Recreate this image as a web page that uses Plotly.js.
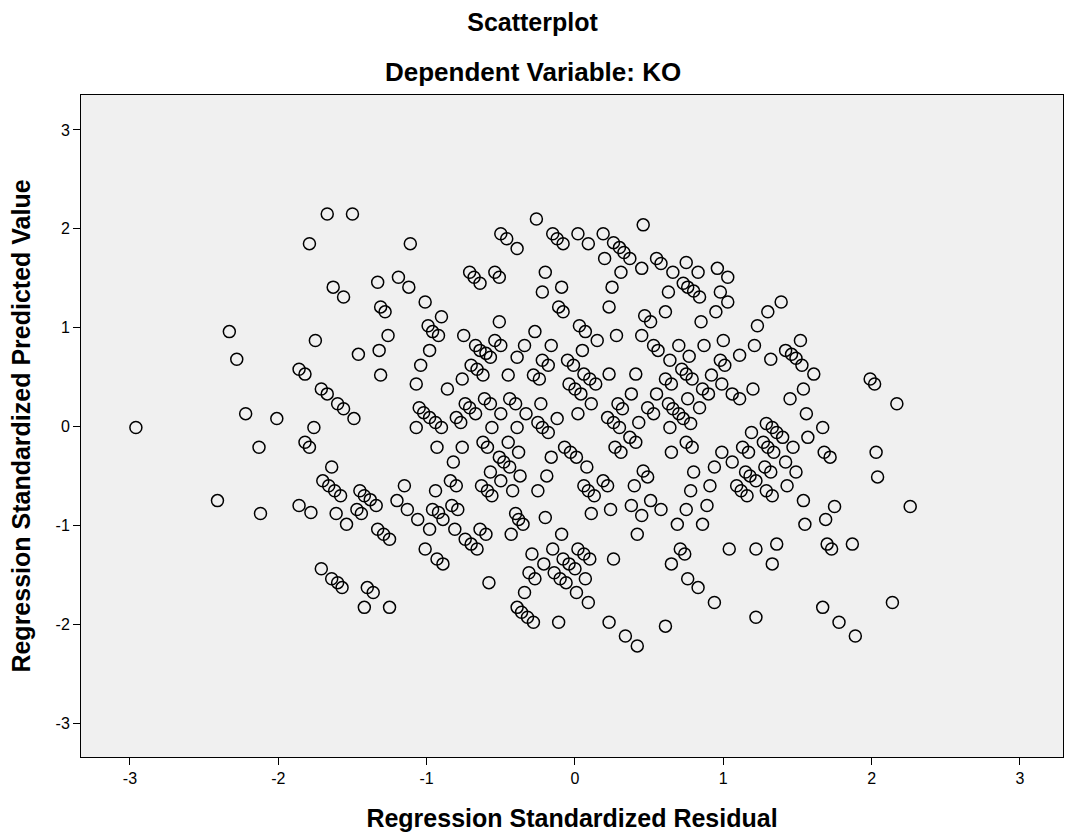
<!DOCTYPE html>
<html>
<head>
<meta charset="utf-8">
<script src="https://cdn.plot.ly/plotly-3.0.1.min.js"></script>
<style>html,body{margin:0;padding:0;background:#fff;}#chart{width:1065px;height:836px;}</style>
</head>
<body>
<div id="chart"></div>
<script>
// Regression Standardized Residual (x) values
const residual = [
-1.79,-2.33,-1.75,-2.28,-1.67,-1.50,-1.11,-0.50,-0.46,-0.39,-0.71,-0.68,-0.64,-0.54,-0.51,-1.19,-1.33,-1.12,-1.63,-1.56,
-1.01,-1.31,-1.28,-0.90,-0.51,-0.99,-0.96,-0.92,-1.26,-0.75,-0.54,-0.50,-0.67,-0.64,-0.60,-0.57,-0.34,-1.32,-0.98,-1.46,
-0.39,-1.04,-0.70,-0.26,0.46,-0.15,-0.12,-0.08,0.02,0.09,0.19,0.26,0.30,0.33,0.37,0.20,0.45,0.55,0.58,0.75,
0.83,0.96,1.03,0.66,-0.20,0.31,0.25,0.63,0.73,0.76,0.80,0.84,0.98,1.03,-0.22,-0.09,-0.11,-0.08,0.23,0.61,
0.47,0.51,0.85,0.95,-0.27,0.03,0.07,0.15,0.28,0.45,0.53,0.56,0.70,0.87,1.00,-0.16,0.05,1.39,1.30,1.23,
1.21,1.52,1.11,1.42,1.46,1.49,1.53,1.32,-1.86,-1.82,-1.71,-2.22,-2.01,-2.96,-1.76,-1.82,-1.79,-2.13,-1.70,-2.41,
-1.86,-1.78,-2.12,-1.31,-1.07,-1.67,-1.60,-1.56,-1.49,-0.66,-0.62,-0.45,-0.76,-0.86,-1.05,-1.02,-0.98,-0.94,-0.90,-1.07,
-0.74,-0.71,-0.67,-0.80,-0.77,-0.61,-0.57,-0.44,-0.40,-0.50,-0.56,-0.39,-0.93,-0.76,-0.62,-0.59,-0.45,-0.38,-0.82,-0.51,
-0.48,-0.44,-0.57,-0.50,-0.37,-0.42,-1.64,-1.66,-1.62,-1.58,-1.45,-1.42,-1.38,-1.34,-1.15,-1.20,-0.94,-0.84,-0.80,-0.63,
-0.59,-0.56,-1.13,-0.96,-0.92,-0.83,-0.79,-1.61,-1.47,-1.44,-0.40,-0.22,-0.18,-0.05,-0.01,0.64,0.77,0.98,1.01,-0.28,
-0.24,0.06,0.10,0.14,-0.04,0.00,0.04,0.23,0.41,0.72,0.75,0.79,0.92,0.99,0.61,0.65,0.86,0.90,1.06,0.38,
0.55,0.76,0.84,-0.23,0.11,0.29,0.32,0.63,0.66,0.70,0.73,0.78,0.49,0.53,-0.33,-0.12,0.02,0.22,0.26,0.30,
0.43,0.64,-0.25,-0.22,-0.18,0.37,0.41,0.27,0.31,0.75,0.79,0.65,0.99,1.06,-0.07,-0.03,0.01,-0.16,0.08,-0.19,
-0.25,0.46,0.49,0.80,0.94,0.19,0.22,0.06,0.09,0.13,0.40,0.78,0.91,0.51,0.38,0.89,0.24,0.11,0.58,0.75,
-0.20,1.61,1.20,1.11,1.54,1.45,1.56,1.99,2.02,2.17,1.29,1.33,1.36,1.40,1.19,1.67,1.57,1.27,1.30,1.34,
1.47,1.13,1.17,1.68,1.72,2.03,1.42,1.28,1.32,1.49,1.15,1.18,1.22,1.09,1.12,1.16,1.29,1.33,1.43,2.04,
1.54,1.75,2.26,-1.54,-1.33,-1.29,-1.25,-1.06,-0.98,-0.89,-0.81,-0.74,-0.70,-0.66,-0.64,-0.60,-1.01,-0.93,-0.89,-0.43,
-0.38,-0.35,-1.71,-1.64,-1.60,-1.57,-1.40,-1.36,-1.42,-1.25,-0.58,-0.34,-0.39,-0.36,-0.32,-0.28,0.45,0.69,0.86,-0.09,
0.42,-0.29,-0.15,0.02,0.06,0.10,-0.08,-0.04,0.00,-0.21,0.26,0.71,0.74,0.65,1.04,-0.31,-0.27,-0.14,-0.10,-0.06,
0.07,0.01,0.09,0.76,0.83,0.94,-0.11,0.23,0.61,0.34,0.42,1.55,1.69,1.22,1.36,1.33,1.70,1.73,1.87,1.22,
1.67,1.78,1.89,2.14
];
// Regression Standardized Predicted Value (y) values
const predicted = [
1.85,0.96,0.87,0.68,2.15,2.15,1.85,1.95,1.90,1.80,1.56,1.51,1.45,1.56,1.51,1.51,1.46,1.41,1.41,1.31,
1.26,1.21,1.16,1.11,1.06,1.02,0.96,0.92,0.92,0.92,0.87,0.82,0.82,0.77,0.74,0.70,0.82,0.77,0.77,0.73,
0.70,0.62,0.62,2.10,2.04,1.95,1.90,1.85,1.95,1.85,1.95,1.86,1.81,1.76,1.70,1.70,1.60,1.70,1.65,1.66,
1.56,1.60,1.51,1.56,1.56,1.56,1.41,1.36,1.45,1.41,1.37,1.31,1.36,1.26,1.36,1.41,1.21,1.16,1.21,1.16,
1.12,1.06,1.06,1.16,0.96,1.02,0.96,0.87,0.92,0.92,0.82,0.77,0.82,0.82,0.87,0.82,0.77,1.26,1.16,1.02,
0.82,0.87,0.72,0.77,0.73,0.69,0.62,0.68,0.58,0.53,0.38,0.13,0.08,-0.01,-0.01,-0.16,-0.21,-0.21,-0.55,-0.75,
-0.80,-0.87,-0.88,0.52,0.43,0.33,0.23,0.18,0.08,0.58,0.52,0.52,0.48,0.38,0.19,0.14,0.09,0.04,-0.01,-0.01,
0.23,0.19,0.13,0.09,0.04,0.28,0.23,0.28,0.23,0.13,-0.01,-0.01,-0.21,-0.21,-0.16,-0.21,-0.16,-0.26,-0.36,-0.31,
-0.36,-0.41,-0.46,-0.55,-0.50,-0.65,-0.41,-0.60,-0.65,-0.70,-0.65,-0.70,-0.74,-0.80,-0.60,-0.75,-0.65,-0.55,-0.60,-0.60,
-0.65,-0.70,-0.84,-0.84,-0.87,-0.80,-0.84,-0.88,-0.84,-0.88,-0.88,0.67,0.62,0.67,0.62,0.67,0.71,0.67,0.62,0.52,
0.48,0.53,0.48,0.43,0.43,0.38,0.33,0.53,0.53,0.58,0.53,0.48,0.52,0.43,0.48,0.43,0.38,0.33,0.33,0.33,
0.33,0.28,0.19,0.23,0.23,0.23,0.18,0.23,0.18,0.13,0.08,0.03,0.19,0.13,0.13,0.08,0.13,0.09,0.04,-0.01,
0.04,-0.01,0.04,-0.01,-0.06,-0.11,-0.16,-0.21,-0.26,-0.16,-0.21,-0.26,-0.26,-0.36,-0.21,-0.26,-0.31,-0.31,-0.41,-0.50,
-0.65,-0.45,-0.51,-0.46,-0.41,-0.55,-0.60,-0.60,-0.65,-0.70,-0.60,-0.65,-0.60,-0.75,-0.80,-0.80,-0.84,-0.88,-0.84,-0.84,
-0.92,0.53,0.38,0.28,0.38,0.28,0.13,0.48,0.43,0.23,0.03,-0.01,-0.06,-0.11,-0.06,-0.01,-0.11,-0.16,-0.21,-0.26,
-0.21,-0.21,-0.26,-0.26,-0.31,-0.26,-0.36,-0.41,-0.46,-0.46,-0.46,-0.50,-0.55,-0.60,-0.65,-0.70,-0.65,-0.70,-0.60,-0.51,
-0.75,-0.81,-0.81,-0.99,-1.04,-1.09,-1.14,-0.94,-1.04,-0.94,-1.04,-1.14,-1.19,-1.24,-1.04,-1.09,-1.24,-1.34,-1.39,-1.09,
-0.94,-0.99,-1.44,-1.54,-1.58,-1.63,-1.63,-1.68,-1.83,-1.83,-1.58,-1.68,-1.83,-1.88,-1.93,-1.98,-0.90,-0.99,-0.99,-1.09,
-1.09,-1.29,-1.24,-1.24,-1.29,-1.34,-1.34,-1.39,-1.44,-1.39,-1.34,-1.24,-1.29,-1.39,-1.24,-1.48,-1.54,-1.48,-1.54,-1.58,
-1.54,-1.68,-1.78,-1.54,-1.63,-1.78,-1.98,-1.98,-2.02,-2.12,-2.22,-0.99,-0.94,-1.24,-1.19,-1.39,-1.19,-1.24,-1.19,-1.93,
-1.83,-1.98,-2.12,-1.78
];
const tickValues = [-3, -2, -1, 0, 1, 2, 3];
const tickLabels = ['-3', '-2', '-1', '0', '1', '2', '3'];

const FONT = 'Liberation Sans, Arial, sans-serif';

const trace = {
  type: 'scatter',
  mode: 'markers',
  x: residual,
  y: predicted,
  marker: {
    symbol: 'circle-open',
    size: 12,
    color: '#000000',
    line: {width: 1.5, color: '#000000'}
  },
  hoverinfo: 'x+y',
  showlegend: false
};

const layout = {
  width: 1065,
  height: 836,
  margin: {l: 81, r: 2, t: 95, b: 79},
  paper_bgcolor: '#ffffff',
  plot_bgcolor: '#f0f0f0',
  font: {family: FONT, color: '#000000'},
  title: {
    text: '<b>Scatterplot</b>',
    font: {family: FONT, size: 25, color: '#000000'},
    x: 0.5, xref: 'container', xanchor: 'center',
    y: 1 - 22/836, yref: 'container', yanchor: 'middle'
  },
  annotations: [{
    text: '<b>Dependent Variable: KO</b>',
    font: {family: FONT, size: 26, color: '#000000'},
    xref: 'paper', yref: 'paper',
    x: (533 - 81) / 982, y: (757 - 72) / 662,
    xanchor: 'center', yanchor: 'middle',
    showarrow: false
  }],
  xaxis: {
    range: [-3.33, 3.29],
    tickvals: tickValues,
    ticktext: tickLabels,
    ticks: 'outside',
    ticklen: 7,
    tickwidth: 1,
    tickcolor: '#000000',
    tickfont: {family: FONT, size: 16, color: '#000000'},
    showgrid: false,
    zeroline: false,
    showline: true,
    linecolor: '#000000',
    linewidth: 1,
    mirror: true,
    automargin: false,
    title: {
      text: '<b>Regression Standardized Residual</b>',
      font: {family: FONT, size: 25, color: '#000000'},
      standoff: 23
    }
  },
  yaxis: {
    range: [-3.344, 3.354],
    tickvals: tickValues,
    ticktext: tickLabels,
    ticks: 'outside',
    ticklen: 7,
    tickwidth: 1,
    tickcolor: '#000000',
    tickfont: {family: FONT, size: 16, color: '#000000'},
    showgrid: false,
    zeroline: false,
    showline: true,
    linecolor: '#000000',
    linewidth: 1,
    mirror: true,
    automargin: false,
    title: {
      text: '<b>Regression Standardized Predicted Value</b>',
      font: {family: FONT, size: 25, color: '#000000'},
      standoff: 17
    }
  }
};

Plotly.newPlot('chart', [trace], layout, {staticPlot: true, displayModeBar: false});
</script>
</body>
</html>
